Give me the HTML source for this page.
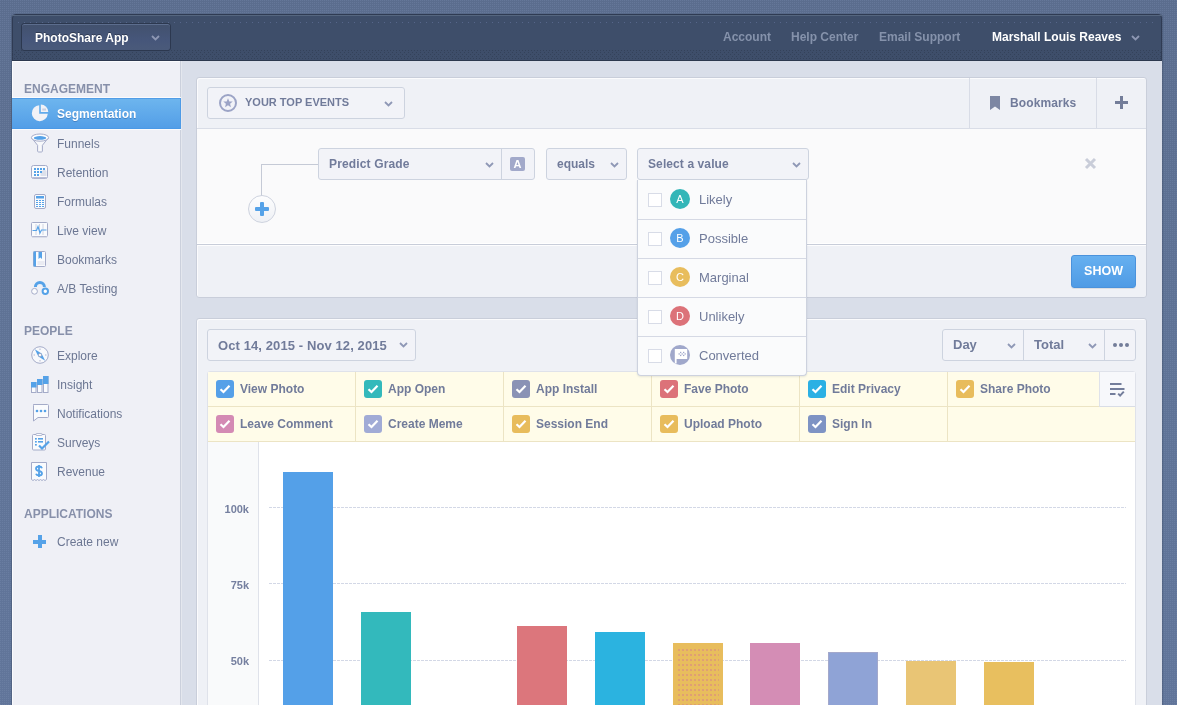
<!DOCTYPE html>
<html><head><meta charset="utf-8">
<style>
*{box-sizing:border-box;margin:0;padding:0}
html,body{width:1177px;height:705px;overflow:hidden}
body{font-family:"Liberation Sans",sans-serif;background:radial-gradient(circle at 0.5px 0.5px,rgba(140,160,195,0.2) 0.5px,transparent 0.7px) 0 0/2px 2px,linear-gradient(#5b6d8e,#5f7396 50%,#61759a);position:relative}
.abs{position:absolute}
div{will-change:transform}
#frame{left:12px;top:14px;width:1150px;height:700px;background:#3e4e6a;border-radius:4px 4px 0 0;border:1px solid #2f3b53;box-shadow:-1px 0 1px rgba(30,40,60,0.25),1px 0 1px rgba(30,40,60,0.25)}
#hdr{left:12px;top:15px;width:1150px;height:46px}
#appbtn{left:21px;top:23px;width:150px;height:28px;background:linear-gradient(#42516d,#46567a 60%,#4a5a7a);border:1px solid #2c384f;border-radius:3px;box-shadow:inset 0 1px 0 #5c6d8d;color:#fff;font-weight:bold;font-size:12px;line-height:29px;padding-left:13px;text-shadow:0 -1px 0 rgba(0,0,0,0.3)}
.chev{position:absolute;width:6px;height:6px;border-right:1.7px solid #8f98b4;border-bottom:1.7px solid #8f98b4;transform:rotate(45deg)}
.hlink{position:absolute;top:30px;font-size:12px;font-weight:bold;color:#8592ab;line-height:14px}
#sidebar{left:12px;top:61px;width:169px;height:644px;background:#eff0f6;border-right:1px solid #cbd0dc;box-shadow:inset 1px 1px 0 #fafbfd}
#content{left:181px;top:61px;width:981px;height:644px;background:#d9dee9;border-left:1px solid #e4e7ee}
.sh{position:absolute;left:24px;font-size:12px;font-weight:bold;color:#8790aa;line-height:14px}
.si{position:absolute;left:57px;font-size:12px;color:#6c7793;line-height:14px}
#active{left:12px;top:98px;width:169px;height:31px;background:linear-gradient(#6db5ee,#539ee7);border-top:1px solid #519de7;border-bottom:1px solid #4a99e7;border-right:1px solid #4d9ae6;box-shadow:0 -1px 0 #fbfbfd,0 1px 0 #fbfbfd}
.panel{position:absolute;left:196px;width:951px;background:#eff1f6;border:1px solid #c9ceda;border-radius:3px;box-shadow:inset 1px 1px 0 #fbfbfd}
.btn{position:absolute;background:#f2f3f8;border:1px solid #cdd3df;border-radius:3px;color:#6c7793;font-weight:bold;font-size:12px}
.grid{left:269px;width:857px;height:1px;background:repeating-linear-gradient(90deg,#d3d8e6 0 3px,transparent 3px 4px)}
.bar{position:absolute;width:50px;height:300px}
</style></head><body>
<div id="frame" class="abs"></div>
<div class="abs" style="left:12px;top:15px;width:1150px;height:1px;background:#55667f"></div>
<div class="abs" style="left:18px;top:22px;width:1138px;height:1px;background:repeating-linear-gradient(90deg,#56668a 0 1px,transparent 1px 6px)"></div>
<div class="abs" style="left:12px;top:50px;width:1150px;height:1px;background:repeating-linear-gradient(90deg,#34425a 0 1px,transparent 1px 3px)"></div>
<div class="abs" style="left:12px;top:52px;width:1150px;height:1px;background:repeating-linear-gradient(90deg,#34425a 0 1px,transparent 1px 4px)"></div>
<div class="abs" style="left:14px;top:54px;width:1148px;height:1px;background:repeating-linear-gradient(90deg,#34425a 0 1px,transparent 1px 4px)"></div>
<div class="abs" style="left:12px;top:56px;width:1150px;height:1px;background:repeating-linear-gradient(90deg,#34425a 0 1px,transparent 1px 4px)"></div>
<div class="abs" style="left:14px;top:58px;width:1148px;height:1px;background:repeating-linear-gradient(90deg,#34425a 0 1px,transparent 1px 3px)"></div>
<div class="abs" style="left:12px;top:60px;width:1150px;height:1px;background:#2c384e"></div>
<div id="appbtn" class="abs">PhotoShare App</div>
<div class="hlink" style="left:723px">Account</div>
<div class="hlink" style="left:791px">Help Center</div>
<div class="hlink" style="left:879px">Email Support</div>
<div class="hlink" style="left:992px;color:#fff">Marshall Louis Reaves</div>
<svg class="abs" style="left:1131px;top:35px" width="9" height="6" viewBox="0 0 9 6"><path d="M1 1L4.5 4.5L8 1" stroke="#8d97b3" stroke-width="1.8" fill="none"/></svg><svg class="abs" style="left:151px;top:35px" width="9" height="6" viewBox="0 0 9 6"><path d="M1 1L4.5 4.5L8 1" stroke="#8d97b3" stroke-width="1.8" fill="none"/></svg>

<div id="sidebar" class="abs"></div>
<div id="content" class="abs"></div>
<div id="active" class="abs"></div>

<div class="sh" style="top:82px">ENGAGEMENT</div>
<div class="si" style="top:107px;color:#fff;font-weight:bold;text-shadow:0 1px 0 rgba(30,70,130,0.35)">Segmentation</div>
<div class="si" style="top:137px">Funnels</div>
<div class="si" style="top:166px">Retention</div>
<div class="si" style="top:195px">Formulas</div>
<div class="si" style="top:224px">Live view</div>
<div class="si" style="top:253px">Bookmarks</div>
<div class="si" style="top:282px">A/B Testing</div>
<div class="sh" style="top:324px">PEOPLE</div>
<div class="si" style="top:349px">Explore</div>
<div class="si" style="top:378px">Insight</div>
<div class="si" style="top:407px">Notifications</div>
<div class="si" style="top:436px">Surveys</div>
<div class="si" style="top:465px">Revenue</div>
<div class="sh" style="top:507px">APPLICATIONS</div>
<div class="si" style="top:535px">Create new</div>

<!-- sidebar icons -->
<svg class="abs" style="left:30px;top:103px" width="20" height="20" viewBox="0 0 20 20">
<path d="M9.2 2.2A8 8 0 1 0 17.8 10.8H9.2Z" fill="#f1f2f7"/>
<path d="M10.8 1.5A7.5 7.5 0 0 1 18.3 9H10.8Z" fill="#f1f2f7"/>
<path d="M12.3 5.5H16V7.6H12.3Z" fill="#c9cfe0"/>
</svg>
<svg class="abs" style="left:30px;top:133px" width="20" height="20" viewBox="0 0 20 20">
<path d="M1.8 5L7.6 12.3V18Q7.6 19 8.6 19H11.4Q12.4 19 12.4 18V12.3L18.2 5Z" fill="#f7f8fb" stroke="#a4abc8" stroke-width="1"/>
<ellipse cx="10" cy="4.6" rx="8.6" ry="3.6" fill="#fdfdfe" stroke="#a4abc8" stroke-width="1"/>
<ellipse cx="10" cy="4.9" rx="6.2" ry="1.8" fill="#55a2e8"/>
</svg>
<svg class="abs" style="left:31px;top:165px" width="17" height="14" viewBox="0 0 17 14">
<rect x="0.5" y="0.5" width="16" height="13" rx="2" fill="#fafbfd" stroke="#a4abc8"/>
<rect x="1.5" y="12" width="14" height="1.5" fill="#b8bdd6"/>
<path d="M9.5 11H15.5V6L13 4L9.5 8Z" fill="#dde1ec"/>
<g fill="#55a2e8"><rect x="3" y="3" width="2" height="2"/><rect x="6" y="3" width="2" height="2"/><rect x="9" y="3" width="2" height="2"/><rect x="12" y="3" width="2" height="2"/>
<rect x="3" y="6" width="2" height="2"/><rect x="6" y="6" width="2" height="2"/><rect x="9" y="6" width="2" height="2"/>
<rect x="3" y="9" width="2" height="2"/><rect x="6" y="9" width="2" height="2"/></g>
</svg>
<svg class="abs" style="left:34px;top:194px" width="12" height="15" viewBox="0 0 12 15">
<rect x="0.5" y="0.5" width="11" height="14" rx="1.5" fill="#fafbfd" stroke="#a4abc8"/>
<rect x="2" y="2" width="8" height="2.5" fill="#55a2e8"/>
<g fill="#55a2e8"><rect x="2" y="6" width="2" height="1"/><rect x="5" y="6" width="2" height="1"/><rect x="8" y="6" width="2" height="1"/>
<rect x="2" y="8" width="2" height="1"/><rect x="5" y="8" width="2" height="1"/><rect x="8" y="8" width="2" height="1"/>
<rect x="2" y="10" width="2" height="1"/><rect x="5" y="10" width="2" height="1"/><rect x="8" y="10" width="2" height="1"/>
<rect x="2" y="12" width="2" height="1"/><rect x="5" y="12" width="2" height="1"/><rect x="8" y="12" width="2" height="1"/></g>
</svg>
<svg class="abs" style="left:31px;top:222px" width="17" height="16" viewBox="0 0 17 16">
<rect x="0.5" y="0.5" width="16" height="14" rx="1" fill="#fafbfd" stroke="#a4abc8"/>
<rect x="1" y="14.5" width="15" height="1" fill="#c5cadc"/>
<path d="M5 2V13M8.5 2V13M12 2V13" stroke="#d0d4e2" stroke-width="1"/>
<path d="M1.5 8.5H5.5L7 4.5L9 11L10.5 8H15.5" stroke="#55a2e8" stroke-width="1.2" fill="none"/>
</svg>
<svg class="abs" style="left:33px;top:251px" width="13" height="16" viewBox="0 0 13 16">
<rect x="0.5" y="0.5" width="12" height="15" rx="1" fill="#fafbfd" stroke="#a4abc8"/>
<rect x="0.5" y="0.5" width="2.5" height="15" fill="#55a2e8"/>
<path d="M5.5 1V8L7.3 6.5L9 8V1Z" fill="#55a2e8"/>
<path d="M4.5 11H11.5M4.5 13H11.5" stroke="#d0d4e2" stroke-width="0.8"/>
</svg>
<svg class="abs" style="left:30px;top:280px" width="20" height="16" viewBox="0 0 20 16">
<path d="M5.4 7A4.5 4.5 0 0 1 14.4 7" stroke="#55a2e8" stroke-width="3" fill="none"/>
<circle cx="4.5" cy="11.3" r="2.9" fill="#fafbfd" stroke="#a4abc8" stroke-width="1"/>
<circle cx="15.3" cy="11.3" r="2.7" fill="#fff" stroke="#55a2e8" stroke-width="2"/>
</svg>
<svg class="abs" style="left:31px;top:346px" width="18" height="18" viewBox="0 0 18 18">
<circle cx="9" cy="9" r="8.3" fill="#f8f9fc" stroke="#a4abc8" stroke-width="1"/>
<path d="M9 2.5V4M9 14V15.5M2.5 9H4M14 9H15.5" stroke="#b2b8d0" stroke-width="1"/>
<path d="M3.8 3.2L10.6 7.6L14.2 14.8L7.4 10.4Z" fill="#55a2e8"/>
<circle cx="9" cy="9" r="1.6" fill="#fff" stroke="#9aa1bd" stroke-width="0.8"/>
</svg>
<svg class="abs" style="left:31px;top:376px" width="18" height="18" viewBox="0 0 18 18">
<g stroke="#a4abc8" stroke-width="1" fill="#fafbfd"><rect x="0.5" y="6.5" width="4.5" height="10"/><rect x="6.5" y="3.5" width="4.5" height="13"/><rect x="12.5" y="0.5" width="4.5" height="16"/></g>
<g fill="#55a2e8"><rect x="0" y="6" width="5.5" height="5.5"/><rect x="6" y="3" width="5.5" height="6"/><rect x="12" y="0" width="5.5" height="8"/></g>
</svg>
<svg class="abs" style="left:32px;top:404px" width="17" height="18" viewBox="0 0 17 18">
<path d="M1.5 0.5H15.5Q16.5 0.5 16.5 1.5V12.5Q16.5 13.5 15.5 13.5H6L1.5 17V1.5Q1.5 0.5 2.5 0.5Z" fill="#fafbfd" stroke="#a4abc8" stroke-width="1"/>
<circle cx="5" cy="7" r="1.3" fill="#55a2e8"/><circle cx="9" cy="7" r="1.3" fill="#55a2e8"/><circle cx="13" cy="7" r="1.3" fill="#55a2e8"/>
</svg>
<svg class="abs" style="left:32px;top:433px" width="18" height="18" viewBox="0 0 18 18">
<rect x="0.5" y="1.5" width="13" height="15.5" rx="1" fill="#fafbfd" stroke="#a4abc8"/>
<rect x="4" y="0.5" width="6" height="2" rx="0.5" fill="#fafbfd" stroke="#a4abc8" stroke-width="0.8"/>
<g fill="#55a2e8"><rect x="3" y="5" width="1.8" height="1.6"/><rect x="6" y="5" width="5" height="1.6"/><rect x="3" y="8" width="1.8" height="1.6"/><rect x="6" y="8" width="5" height="1.6"/><rect x="3" y="11" width="1.8" height="1.6"/></g>
<path d="M7 12.5L10 15.5L17 8.5" stroke="#55a2e8" stroke-width="2.2" fill="none"/>
</svg>
<svg class="abs" style="left:31px;top:462px" width="16" height="19" viewBox="0 0 16 19">
<path d="M0.5 0.5H15.5V17.5L14 18.5L12.5 17.5L11 18.5L9.5 17.5L8 18.5L6.5 17.5L5 18.5L3.5 17.5L2 18.5L0.5 17.5Z" fill="#fafbfd" stroke="#a4abc8" stroke-width="1"/>
<path d="M11 6.2Q10.5 4.5 8 4.5Q5 4.5 5 6.5Q5 8.5 8 9Q11 9.5 11 11.5Q11 13.5 8 13.5Q5.5 13.5 5 11.8M8 3V15" stroke="#55a2e8" stroke-width="1.8" fill="none"/>
</svg>
<div class="abs" style="left:33px;top:540px;width:13px;height:3.5px;background:#55a2e8"></div>
<div class="abs" style="left:37.7px;top:535px;width:3.5px;height:13px;background:#55a2e8"></div>
<!-- panel 1 -->
<div class="panel" style="top:77px;height:221px;overflow:hidden">
  <div class="abs" style="left:0;top:50px;width:949px;height:117px;background:#fafafb;border-top:1px solid #d9dde7;border-bottom:1px solid #c8cdd9;box-shadow:inset 0 -1px 0 #fff"></div>
  <div class="abs" style="left:0;top:167px;width:949px;height:1px;background:#fdfdfe"></div>
  <div class="abs" style="left:772px;top:0;width:1px;height:50px;background:#d8dce6"></div>
  <div class="abs" style="left:899px;top:0;width:1px;height:50px;background:#d8dce6"></div>
</div>
<div class="btn" style="left:207px;top:87px;width:198px;height:32px"></div>
<div class="abs" style="left:219px;top:94px;width:18px;height:18px;border:2px solid #9ca4c6;border-radius:50%"></div>
<svg class="abs" style="left:222px;top:97px" width="12" height="12" viewBox="0 0 12 12"><path d="M6 1.2 L7.3 4.4 L10.7 4.6 L8.1 6.8 L8.9 10.2 L6 8.3 L3.1 10.2 L3.9 6.8 L1.3 4.6 L4.7 4.4Z" fill="#9ca4c6"/></svg>
<div class="abs" style="left:245px;top:96px;font-size:11px;font-weight:bold;color:#717b9a;line-height:12px">YOUR TOP EVENTS</div>
<svg class="abs" style="left:384px;top:101px" width="9" height="6" viewBox="0 0 9 6"><path d="M1 1L4.5 4.5L8 1" stroke="#8f98b6" stroke-width="1.8" fill="none"/></svg>
<svg class="abs" style="left:990px;top:96px" width="11" height="15" viewBox="0 0 11 15"><path d="M0 0H10V14L5 10.5L0 14Z" fill="#7d87a3"/></svg>
<div class="abs" style="left:1010px;top:97px;font-size:12px;font-weight:bold;color:#717b9a;line-height:12px;letter-spacing:0.1px">Bookmarks</div>
<div class="abs" style="left:1115px;top:101px;width:13px;height:3px;background:#737d99"></div>
<div class="abs" style="left:1120px;top:96px;width:3px;height:13px;background:#737d99"></div>

<div class="abs" style="left:261px;top:164px;width:57px;height:1px;background:#c5cad6"></div>
<div class="abs" style="left:261px;top:164px;width:1px;height:32px;background:#c5cad6"></div>
<div class="abs" style="left:248px;top:195px;width:28px;height:28px;border:1px solid #cdd2de;border-radius:50%;background:linear-gradient(#fdfdfe,#eef0f5)"></div>
<div class="abs" style="left:255px;top:207px;width:14px;height:4px;background:#55a2e8;border-radius:1px"></div>
<div class="abs" style="left:260px;top:202px;width:4px;height:14px;background:#55a2e8;border-radius:1px"></div>

<div class="btn" style="left:318px;top:148px;width:217px;height:32px"></div>
<div class="abs" style="left:501px;top:149px;width:1px;height:30px;background:#cdd3df"></div>
<div class="abs" style="left:329px;top:157px;font-size:12px;font-weight:bold;color:#717b9a;line-height:14px;letter-spacing:0.15px">Predict Grade</div>
<svg class="abs" style="left:485px;top:162px" width="9" height="6" viewBox="0 0 9 6"><path d="M1 1L4.5 4.5L8 1" stroke="#8f98b6" stroke-width="1.8" fill="none"/></svg>
<div class="abs" style="left:510px;top:157px;width:15px;height:14px;background:#a2a9ca;border-radius:2px;color:#fff;font-size:11px;font-weight:bold;text-align:center;line-height:14px">A</div>
<div class="btn" style="left:546px;top:148px;width:81px;height:32px"></div>
<div class="abs" style="left:557px;top:157px;font-size:12px;font-weight:bold;color:#717b9a;line-height:14px">equals</div>
<svg class="abs" style="left:610px;top:162px" width="9" height="6" viewBox="0 0 9 6"><path d="M1 1L4.5 4.5L8 1" stroke="#8f98b6" stroke-width="1.8" fill="none"/></svg>
<div class="btn" style="left:637px;top:148px;width:172px;height:32px"></div>
<div class="abs" style="left:648px;top:157px;font-size:12px;font-weight:bold;color:#717b9a;line-height:14px;letter-spacing:0.1px">Select a value</div>
<svg class="abs" style="left:792px;top:162px" width="9" height="6" viewBox="0 0 9 6"><path d="M1 1L4.5 4.5L8 1" stroke="#8f98b6" stroke-width="1.8" fill="none"/></svg>
<svg class="abs" style="left:1084px;top:157px" width="13" height="13" viewBox="0 0 13 13"><path d="M2 2L11 11M11 2L2 11" stroke="#c9cdd9" stroke-width="3"/></svg>

<div class="abs" style="left:1071px;top:255px;width:65px;height:33px;border-radius:3px;background:linear-gradient(#66b0f0,#4f9be5);border:1px solid #4a92dc;box-shadow:0 1px 0 rgba(0,0,0,0.08)"></div>
<div class="abs" style="left:1071px;top:264px;width:65px;text-align:center;font-size:12.5px;font-weight:bold;color:#fff;line-height:14px">SHOW</div>

<!-- panel 2 -->
<div class="panel" style="top:318px;height:400px"></div>
<div class="btn" style="left:207px;top:329px;width:209px;height:32px"></div>
<div class="abs" style="left:218px;top:339px;font-size:13px;font-weight:bold;color:#717b9a;line-height:14px;letter-spacing:0.1px">Oct 14, 2015 - Nov 12, 2015</div>
<svg class="abs" style="left:399px;top:342px" width="9" height="6" viewBox="0 0 9 6"><path d="M1 1L4.5 4.5L8 1" stroke="#8f98b6" stroke-width="1.8" fill="none"/></svg>
<div class="btn" style="left:942px;top:329px;width:194px;height:32px"></div>
<div class="abs" style="left:1023px;top:330px;width:1px;height:30px;background:#cdd3df"></div>
<div class="abs" style="left:1104px;top:330px;width:1px;height:30px;background:#cdd3df"></div>
<div class="abs" style="left:953px;top:338px;font-size:13px;font-weight:bold;color:#717b9a;line-height:14px">Day</div>
<svg class="abs" style="left:1007px;top:343px" width="9" height="6" viewBox="0 0 9 6"><path d="M1 1L4.5 4.5L8 1" stroke="#8f98b6" stroke-width="1.8" fill="none"/></svg>
<div class="abs" style="left:1034px;top:338px;font-size:13px;font-weight:bold;color:#717b9a;line-height:14px">Total</div>
<svg class="abs" style="left:1088px;top:343px" width="9" height="6" viewBox="0 0 9 6"><path d="M1 1L4.5 4.5L8 1" stroke="#8f98b6" stroke-width="1.8" fill="none"/></svg>
<div class="abs" style="left:1113px;top:343px;width:4px;height:4px;border-radius:50%;background:#737d99"></div>
<div class="abs" style="left:1119px;top:343px;width:4px;height:4px;border-radius:50%;background:#737d99"></div>
<div class="abs" style="left:1125px;top:343px;width:4px;height:4px;border-radius:50%;background:#737d99"></div>

<div class="abs" style="left:207px;top:371px;width:929px;height:340px;background:#fff;border:1px solid #dfe2ea;border-radius:3px 3px 0 0"></div>
<div class="abs" style="left:208px;top:372px;width:927px;height:69px;background:#fffce9"></div>
<div class="abs" style="left:208px;top:406px;width:927px;height:1px;background:#ece4c4"></div>
<div class="abs" style="left:208px;top:441px;width:927px;height:1px;background:#ece4c4"></div>
<div class="abs" style="left:355px;top:372px;width:1px;height:69px;background:#ece4c4"></div>
<div class="abs" style="left:503px;top:372px;width:1px;height:69px;background:#ece4c4"></div>
<div class="abs" style="left:651px;top:372px;width:1px;height:69px;background:#ece4c4"></div>
<div class="abs" style="left:799px;top:372px;width:1px;height:69px;background:#ece4c4"></div>
<div class="abs" style="left:947px;top:372px;width:1px;height:69px;background:#ece4c4"></div>

<div class="abs" style="left:1099px;top:372px;width:36px;height:35px;background:#f7f8fb;border-left:1px solid #dfe2ea;border-bottom:1px solid #d9dde6"></div>
<svg class="abs" style="left:1110px;top:382px" width="16" height="16" viewBox="0 0 16 16"><path d="M0 2H11.5M0 7H14.5M0 12H5.5" stroke="#737d9b" stroke-width="2"/><path d="M8.2 11.6L10.1 13.6L13.8 9.6" stroke="#737d9b" stroke-width="2" fill="none"/></svg>
<div class="abs" style="left:216px;top:380px;width:18px;height:18px;border-radius:3px;background:#55a0e8"></div>
<svg class="abs" style="left:216px;top:380px" width="18" height="18" viewBox="0 0 18 18"><path d="M4.5 9.2L7.5 12L13.5 5.8" stroke="#fff" stroke-width="2.2" fill="none"/></svg>
<div class="abs" style="left:240px;top:382px;font-size:12px;font-weight:bold;color:#717b9a;line-height:14px">View Photo</div>
<div class="abs" style="left:364px;top:380px;width:18px;height:18px;border-radius:3px;background:#33b9bb"></div>
<svg class="abs" style="left:364px;top:380px" width="18" height="18" viewBox="0 0 18 18"><path d="M4.5 9.2L7.5 12L13.5 5.8" stroke="#fff" stroke-width="2.2" fill="none"/></svg>
<div class="abs" style="left:388px;top:382px;font-size:12px;font-weight:bold;color:#717b9a;line-height:14px">App Open</div>
<div class="abs" style="left:512px;top:380px;width:18px;height:18px;border-radius:3px;background:#8a92b5"></div>
<svg class="abs" style="left:512px;top:380px" width="18" height="18" viewBox="0 0 18 18"><path d="M4.5 9.2L7.5 12L13.5 5.8" stroke="#fff" stroke-width="2.2" fill="none"/></svg>
<div class="abs" style="left:536px;top:382px;font-size:12px;font-weight:bold;color:#717b9a;line-height:14px">App Install</div>
<div class="abs" style="left:660px;top:380px;width:18px;height:18px;border-radius:3px;background:#dc7279"></div>
<svg class="abs" style="left:660px;top:380px" width="18" height="18" viewBox="0 0 18 18"><path d="M4.5 9.2L7.5 12L13.5 5.8" stroke="#fff" stroke-width="2.2" fill="none"/></svg>
<div class="abs" style="left:684px;top:382px;font-size:12px;font-weight:bold;color:#717b9a;line-height:14px">Fave Photo</div>
<div class="abs" style="left:808px;top:380px;width:18px;height:18px;border-radius:3px;background:#2bb0e4"></div>
<svg class="abs" style="left:808px;top:380px" width="18" height="18" viewBox="0 0 18 18"><path d="M4.5 9.2L7.5 12L13.5 5.8" stroke="#fff" stroke-width="2.2" fill="none"/></svg>
<div class="abs" style="left:832px;top:382px;font-size:12px;font-weight:bold;color:#717b9a;line-height:14px">Edit Privacy</div>
<div class="abs" style="left:956px;top:380px;width:18px;height:18px;border-radius:3px;background:#e8bc5c"></div>
<svg class="abs" style="left:956px;top:380px" width="18" height="18" viewBox="0 0 18 18"><path d="M4.5 9.2L7.5 12L13.5 5.8" stroke="#fff" stroke-width="2.2" fill="none"/></svg>
<div class="abs" style="left:980px;top:382px;font-size:12px;font-weight:bold;color:#717b9a;line-height:14px">Share Photo</div>
<div class="abs" style="left:216px;top:415px;width:18px;height:18px;border-radius:3px;background:#d48ab4"></div>
<svg class="abs" style="left:216px;top:415px" width="18" height="18" viewBox="0 0 18 18"><path d="M4.5 9.2L7.5 12L13.5 5.8" stroke="#fff" stroke-width="2.2" fill="none"/></svg>
<div class="abs" style="left:240px;top:417px;font-size:12px;font-weight:bold;color:#717b9a;line-height:14px">Leave Comment</div>
<div class="abs" style="left:364px;top:415px;width:18px;height:18px;border-radius:3px;background:#a1abd6"></div>
<svg class="abs" style="left:364px;top:415px" width="18" height="18" viewBox="0 0 18 18"><path d="M4.5 9.2L7.5 12L13.5 5.8" stroke="#fff" stroke-width="2.2" fill="none"/></svg>
<div class="abs" style="left:388px;top:417px;font-size:12px;font-weight:bold;color:#717b9a;line-height:14px">Create Meme</div>
<div class="abs" style="left:512px;top:415px;width:18px;height:18px;border-radius:3px;background:#e8bc5c"></div>
<svg class="abs" style="left:512px;top:415px" width="18" height="18" viewBox="0 0 18 18"><path d="M4.5 9.2L7.5 12L13.5 5.8" stroke="#fff" stroke-width="2.2" fill="none"/></svg>
<div class="abs" style="left:536px;top:417px;font-size:12px;font-weight:bold;color:#717b9a;line-height:14px">Session End</div>
<div class="abs" style="left:660px;top:415px;width:18px;height:18px;border-radius:3px;background:#e8bc5c"></div>
<svg class="abs" style="left:660px;top:415px" width="18" height="18" viewBox="0 0 18 18"><path d="M4.5 9.2L7.5 12L13.5 5.8" stroke="#fff" stroke-width="2.2" fill="none"/></svg>
<div class="abs" style="left:684px;top:417px;font-size:12px;font-weight:bold;color:#717b9a;line-height:14px">Upload Photo</div>
<div class="abs" style="left:808px;top:415px;width:18px;height:18px;border-radius:3px;background:#7e93c4"></div>
<svg class="abs" style="left:808px;top:415px" width="18" height="18" viewBox="0 0 18 18"><path d="M4.5 9.2L7.5 12L13.5 5.8" stroke="#fff" stroke-width="2.2" fill="none"/></svg>
<div class="abs" style="left:832px;top:417px;font-size:12px;font-weight:bold;color:#717b9a;line-height:14px">Sign In</div>

<div class="abs" style="left:208px;top:442px;width:51px;height:270px;background:#f9fafb;border-right:1px solid #dfe2ea"></div>

<!-- chart -->
<div class="abs" style="left:218px;top:503px;width:31px;text-align:right;font-size:11px;font-weight:bold;color:#757f9f;line-height:12px">100k</div>
<div class="abs" style="left:218px;top:579px;width:31px;text-align:right;font-size:11px;font-weight:bold;color:#757f9f;line-height:12px">75k</div>
<div class="abs" style="left:218px;top:655px;width:31px;text-align:right;font-size:11px;font-weight:bold;color:#757f9f;line-height:12px">50k</div>
<div class="grid abs" style="top:507px"></div>
<div class="grid abs" style="top:583px"></div>
<div class="grid abs" style="top:660px"></div>
<div class="bar" style="left:283px;top:472px;background:#54a0e8"></div>
<div class="bar" style="left:361px;top:612px;background:#33b9bc"></div>
<div class="bar" style="left:517px;top:626px;background:#dc767c"></div>
<div class="bar" style="left:595px;top:632px;background:#2bb3e0"></div>
<div class="bar" style="left:673px;top:643px;background:#e8bd5d"></div><div class="abs" style="left:677px;top:648px;width:42px;height:60px;background:radial-gradient(circle at 2px 2px,#d4709a 0.55px,transparent 0.8px) 0 0/4px 5px"></div>
<div class="bar" style="left:750px;top:643px;background:#d48db5"></div>
<div class="bar" style="left:828px;top:652px;background:#8fa3d6;border:1px solid #a3a8cb"></div>
<div class="bar" style="left:906px;top:661px;background:#e9c575"></div>
<div class="bar" style="left:984px;top:662px;background:#e8bf5f"></div>
<!-- dropdown -->
<div class="abs" style="left:637px;top:180px;width:170px;height:196px;background:#fafbfc;border:1px solid #cdd2de;border-top:none;border-radius:0 0 4px 4px;box-shadow:0 1px 2px rgba(60,70,100,0.12)"></div>
<div class="abs" style="left:648px;top:193px;width:14px;height:14px;border:1px solid #d8dce7;background:#fff"></div>
<div class="abs" style="left:670px;top:189px;width:20px;height:20px;border-radius:50%;background:#33b6b8;color:#fff;font-size:11px;text-align:center;line-height:20px">A</div>
<div class="abs" style="left:699px;top:192px;font-size:13px;color:#717b9a;line-height:15px">Likely</div>
<div class="abs" style="left:638px;top:219px;width:168px;height:1px;background:#d5d9e4"></div>
<div class="abs" style="left:648px;top:232px;width:14px;height:14px;border:1px solid #d8dce7;background:#fff"></div>
<div class="abs" style="left:670px;top:228px;width:20px;height:20px;border-radius:50%;background:#55a0e8;color:#fff;font-size:11px;text-align:center;line-height:20px">B</div>
<div class="abs" style="left:699px;top:231px;font-size:13px;color:#717b9a;line-height:15px">Possible</div>
<div class="abs" style="left:638px;top:258px;width:168px;height:1px;background:#d5d9e4"></div>
<div class="abs" style="left:648px;top:271px;width:14px;height:14px;border:1px solid #d8dce7;background:#fff"></div>
<div class="abs" style="left:670px;top:267px;width:20px;height:20px;border-radius:50%;background:#e8bd5d;color:#fff;font-size:11px;text-align:center;line-height:20px">C</div>
<div class="abs" style="left:699px;top:270px;font-size:13px;color:#717b9a;line-height:15px">Marginal</div>
<div class="abs" style="left:638px;top:297px;width:168px;height:1px;background:#d5d9e4"></div>
<div class="abs" style="left:648px;top:310px;width:14px;height:14px;border:1px solid #d8dce7;background:#fff"></div>
<div class="abs" style="left:670px;top:306px;width:20px;height:20px;border-radius:50%;background:#dc7279;color:#fff;font-size:11px;text-align:center;line-height:20px">D</div>
<div class="abs" style="left:699px;top:309px;font-size:13px;color:#717b9a;line-height:15px">Unlikely</div>
<div class="abs" style="left:638px;top:336px;width:168px;height:1px;background:#d5d9e4"></div>
<div class="abs" style="left:648px;top:349px;width:14px;height:14px;border:1px solid #d8dce7;background:#fff"></div>
<div class="abs" style="left:670px;top:345px;width:20px;height:20px;border-radius:50%;background:#a0a8cb;color:#fff;font-size:11px;text-align:center;line-height:20px"></div>
<div class="abs" style="left:699px;top:348px;font-size:13px;color:#717b9a;line-height:15px">Converted</div>
<svg class="abs" style="left:674px;top:348px" width="14" height="16" viewBox="0 0 14 16"><path d="M0.8 1H13.2V11H2.6V15.6H0.8Z" fill="#fff"/><g fill="#a0a8cb"><rect x="4.5" y="5.3" width="1.3" height="1.3"/><rect x="6" y="3.8" width="1.3" height="1.3"/><rect x="7.5" y="5.3" width="1.3" height="1.3"/><rect x="9" y="3.8" width="1.3" height="1.3"/><rect x="10.5" y="5.3" width="1.3" height="1.3"/><rect x="6" y="6.8" width="1.3" height="1.3"/><rect x="9" y="6.8" width="1.3" height="1.3"/></g></svg>
</body></html>
